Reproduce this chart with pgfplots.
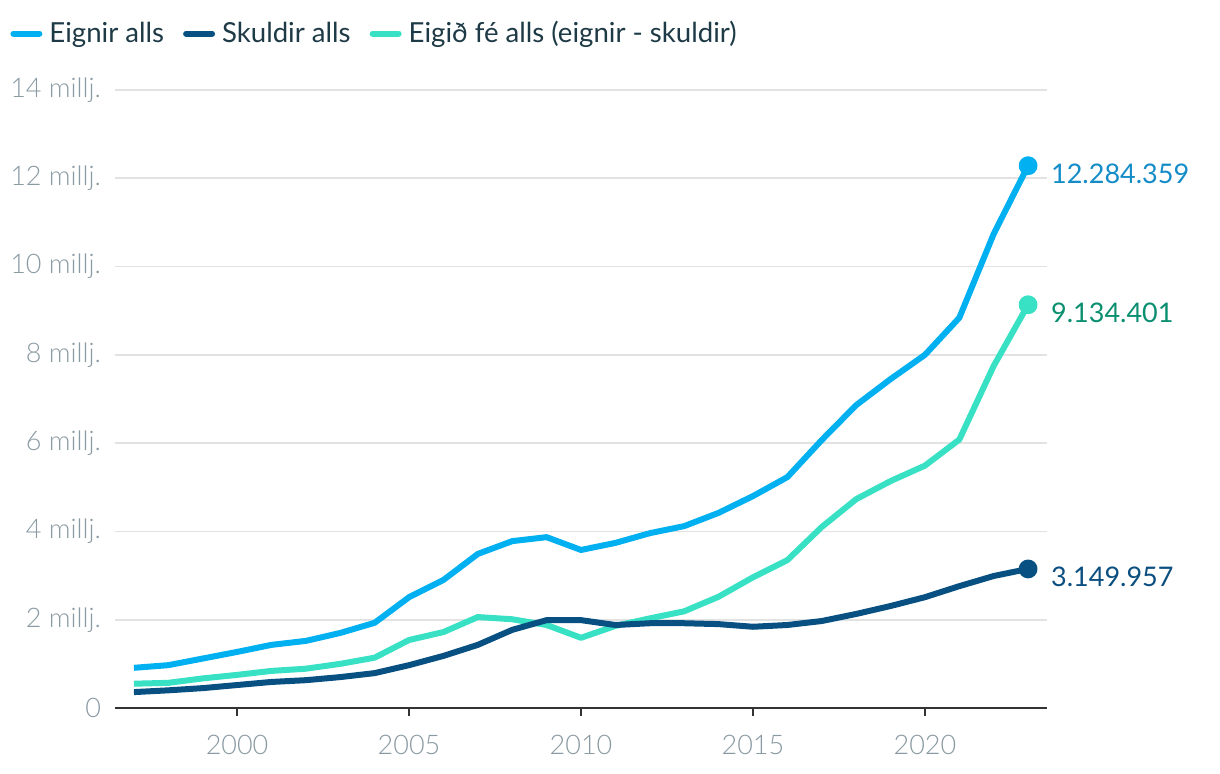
\documentclass[border=0pt]{standalone}
\usepackage{pgfplots}
\pgfplotsset{compat=1.18}
\usepackage{fontspec}
\setmainfont{Lato}
\newfontfamily\lightfont{Lato Light}
\definecolor{ceignir}{RGB}{0,176,240}
\definecolor{cskuld}{RGB}{8,80,130}
\definecolor{cfe}{RGB}{56,224,196}
\definecolor{leignir}{RGB}{20,140,200}
\definecolor{lfe}{RGB}{10,143,112}
\definecolor{lskuld}{RGB}{11,79,128}
\definecolor{legtext}{RGB}{30,58,70}
\definecolor{tickcol}{RGB}{138,154,162}
\definecolor{gridcol}{RGB}{226,226,226}
\definecolor{axiscol}{RGB}{51,51,51}
\begin{document}
\begin{tikzpicture}
\useasboundingbox (0,0) rectangle (610pt,387pt);
\begin{axis}[
  at={(57.5pt,33pt)}, anchor=south west,
  scale only axis, width=466pt, height=309pt,
  xmin=1996.45, xmax=2023.55, ymin=0, ymax=14,
  axis x line*=bottom, axis y line*=left,
  y axis line style={draw=none},
  x axis line style={draw=axiscol, line width=1pt},
  xtick={2000,2005,2010,2015,2020},
  xticklabels={2000,2005,2010,2015,2020},
  ytick={0,2,4,6,8,10,12,14},
  yticklabels={0,2 millj.,4 millj.,6 millj.,8 millj.,10 millj.,12 millj.,14 millj.},
  tick align=outside,
  major tick length=4pt,
  xtick style={draw=axiscol, line width=1pt},
  ytick style={draw=none},
  ymajorgrids, grid style={draw=gridcol, line width=0.8pt},
  ticklabel style={font=\lightfont\fontsize{13.5}{16}\selectfont, text=tickcol},
  yticklabel style={xshift=0.5pt},
  xticklabel style={yshift=-6pt},
  legend style={at={(-0.11266,1.1117)}, anchor=north west, draw=none, fill=none,
    inner sep=0pt, nodes={inner sep=0pt},
    legend columns=3, font=\fontsize{13.8}{16}\selectfont, text=legtext,
    /tikz/every odd column/.append style={column sep=3.5pt},
    /tikz/every even column/.append style={column sep=9.5pt}},
  legend image code/.code={\draw[#1, line cap=round, line width=3pt] (1.5pt,0pt) -- (14.5pt,0pt);},
  clip=false,
  every axis plot/.append style={line width=3pt, line join=round},
]
\addlegendimage{ceignir}
\addlegendentry{Eignir alls}
\addlegendimage{cskuld}
\addlegendentry{Skuldir alls}
\addlegendimage{cfe}
\addlegendentry{Eigið fé alls (eignir - skuldir)}

\addplot[ceignir, forget plot] coordinates {
(1997,0.91)(1998,0.97)(1999,1.12)(2000,1.27)(2001,1.43)(2002,1.52)(2003,1.70)(2004,1.93)
(2005,2.51)(2006,2.90)(2007,3.49)(2008,3.78)(2009,3.87)(2010,3.58)(2011,3.74)(2012,3.96)
(2013,4.12)(2014,4.42)(2015,4.80)(2016,5.23)(2017,6.07)(2018,6.86)(2019,7.45)(2020,8.00)
(2021,8.84)(2022,10.74)(2023,12.284359)};
\addplot[cfe, forget plot] coordinates {
(1997,0.55)(1998,0.57)(1999,0.67)(2000,0.75)(2001,0.84)(2002,0.89)(2003,1.00)(2004,1.14)
(2005,1.54)(2006,1.72)(2007,2.06)(2008,2.01)(2009,1.88)(2010,1.59)(2011,1.86)(2012,2.03)
(2013,2.19)(2014,2.52)(2015,2.96)(2016,3.35)(2017,4.10)(2018,4.73)(2019,5.14)(2020,5.49)
(2021,6.08)(2022,7.75)(2023,9.134401)};
\addplot[cskuld, forget plot] coordinates {
(1997,0.36)(1998,0.40)(1999,0.45)(2000,0.52)(2001,0.59)(2002,0.63)(2003,0.70)(2004,0.79)
(2005,0.97)(2006,1.18)(2007,1.43)(2008,1.77)(2009,1.99)(2010,1.99)(2011,1.88)(2012,1.92)
(2013,1.92)(2014,1.90)(2015,1.84)(2016,1.88)(2017,1.97)(2018,2.13)(2019,2.31)(2020,2.51)
(2021,2.76)(2022,2.99)(2023,3.149957)};

\addplot[ceignir, only marks, mark=*, mark size=3.2pt, forget plot] coordinates {(2023,12.284359)};
\addplot[cfe, only marks, mark=*, mark size=3.2pt, forget plot] coordinates {(2023,9.134401)};
\addplot[cskuld, only marks, mark=*, mark size=3.2pt, forget plot] coordinates {(2023,3.149957)};

\node[anchor=west, xshift=8pt, yshift=-4pt, text=leignir, font=\fontsize{13.5}{16}\selectfont] at (axis cs:2023,12.284359) {12.284.359};
\node[anchor=west, xshift=8pt, yshift=-4pt, text=lfe, font=\fontsize{13.5}{16}\selectfont] at (axis cs:2023,9.134401) {9.134.401};
\node[anchor=west, xshift=8pt, yshift=-4pt, text=lskuld, font=\fontsize{13.5}{16}\selectfont] at (axis cs:2023,3.149957) {3.149.957};
\end{axis}
\end{tikzpicture}
\end{document}
